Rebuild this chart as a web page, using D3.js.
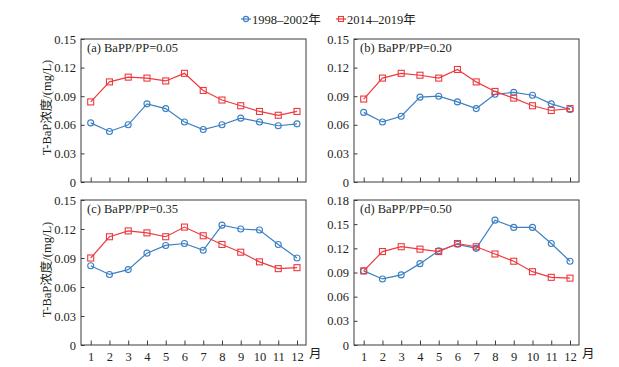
<!DOCTYPE html>
<html><head><meta charset="utf-8">
<script src="https://cdn.jsdelivr.net/npm/d3@7"></script>
<style>
html,body{margin:0;padding:0;background:#fff;}
svg text{font-family:"Liberation Serif","Noto Sans CJK SC",serif;fill:#231f20;}
</style></head>
<body><svg id="chart" width="619" height="367"></svg>
<script>
const months = [1,2,3,4,5,6,7,8,9,10,11,12];
const seriesNames = ["1998–2002年","2014–2019年"];
const panelLabels = ["(a) BaPP/PP=0.05","(b) BaPP/PP=0.20","(c) BaPP/PP=0.35","(d) BaPP/PP=0.50"];
const yTicksABC = [0,0.03,0.06,0.09,0.12,0.15];
const yTicksD = [0,0.03,0.06,0.09,0.12,0.15,0.18];
const yLabel = "T-BaP浓度/(mg/L)";
const xUnit = "月";

const blueA = [0.062,0.053,0.060,0.082,0.077,0.063,0.055,0.060,0.067,0.063,0.059,0.061];
const redA  = [0.084,0.105,0.110,0.109,0.106,0.114,0.096,0.086,0.080,0.074,0.070,0.074];
const blueB = [0.073,0.063,0.069,0.089,0.090,0.084,0.077,0.092,0.094,0.091,0.082,0.076];
const redB  = [0.087,0.109,0.114,0.112,0.109,0.118,0.105,0.095,0.088,0.080,0.075,0.077];
const blueC = [0.082,0.073,0.078,0.095,0.103,0.105,0.098,0.124,0.120,0.119,0.104,0.090];
const redC  = [0.090,0.112,0.118,0.116,0.112,0.122,0.113,0.104,0.096,0.086,0.079,0.080];
const blueD = [0.092,0.082,0.087,0.101,0.117,0.125,0.120,0.155,0.146,0.146,0.126,0.104];
const redD  = [0.092,0.116,0.122,0.119,0.116,0.126,0.122,0.113,0.104,0.091,0.084,0.083];

const BLUE = "#3b7fc3", RED = "#ee3a3f", FRAME = "#3a3a3a";

const panels = [
  {x0:81, x1:306, y0:39, y1:182, label:panelLabels[0], blue:blueA, red:redA, ticks:yTicksABC, max:0.15, xlab:false, ylab:true},
  {x0:354, x1:579, y0:39, y1:182, label:panelLabels[1], blue:blueB, red:redB, ticks:yTicksABC, max:0.15, xlab:false, ylab:false},
  {x0:81, x1:306, y0:200, y1:345, label:panelLabels[2], blue:blueC, red:redC, ticks:yTicksABC, max:0.15, xlab:true, ylab:true},
  {x0:354, x1:579, y0:200, y1:345, label:panelLabels[3], blue:blueD, red:redD, ticks:yTicksD, max:0.18, xlab:true, ylab:false}
];

const svg = d3.select("#chart");
const fmt = v => v === 0 ? "0" : d3.format(".2f")(v);

panels.forEach(p => {
  const x = d3.scaleLinear().domain([1,12]).range([p.x0+9.7, p.x1-9]);
  const y = d3.scaleLinear().domain([0,p.max]).range([p.y1, p.y0]);
  const g = svg.append("g");

  const ya = d3.axisLeft(y).tickValues(p.ticks).tickSize(-3.5).tickPadding(5).tickFormat(fmt);
  const yg = g.append("g").attr("transform", `translate(${p.x0},0)`).call(ya);
  yg.select(".domain").remove();
  yg.selectAll("line").attr("stroke", FRAME).attr("stroke-width", 1);
  yg.selectAll("text").attr("font-size", 12.5).style("font-family", '"Liberation Serif",serif').attr("fill","#231f20");

  const xa = d3.axisBottom(x).tickValues(months).tickSize(-4.5).tickPadding(7).tickFormat(p.xlab ? d3.format("d") : "");
  const xg = g.append("g").attr("transform", `translate(0,${p.y1})`).call(xa);
  xg.select(".domain").remove();
  xg.selectAll("line").attr("stroke", FRAME).attr("stroke-width", 1);
  xg.selectAll("text").attr("font-size", 12.5).style("font-family", '"Liberation Serif",serif').attr("fill","#231f20");

  g.append("rect").attr("x", p.x0).attr("y", p.y0).attr("width", p.x1-p.x0).attr("height", p.y1-p.y0)
    .attr("fill","none").attr("stroke", FRAME).attr("stroke-width", 1);

  g.append("text").attr("x", p.x0+6).attr("y", p.y0+12.5).attr("font-size", 12.5).text(p.label);

  if (p.xlab) {
    g.append("text").attr("x", p.x1+3).attr("y", p.y1+13).attr("font-size", 12.5).text(xUnit);
  }
  if (p.ylab) {
    g.append("text").attr("transform", `translate(${p.x0-30},${(p.y0+p.y1)/2-3}) rotate(-90)`)
      .attr("text-anchor","middle").attr("font-size", 12.5).text(yLabel);
  }

  const line = d3.line().x((d,i)=>x(months[i])).y(d=>y(d));
  g.append("path").datum(p.blue).attr("d", line).attr("fill","none").attr("stroke", BLUE).attr("stroke-width", 1.2);
  g.selectAll(".cb").data(p.blue).join("circle").attr("cx",(d,i)=>x(months[i])).attr("cy",d=>y(d)).attr("r",3)
    .attr("fill","none").attr("stroke", BLUE).attr("stroke-width", 1.1);
  g.append("path").datum(p.red).attr("d", line).attr("fill","none").attr("stroke", RED).attr("stroke-width", 1.2);
  g.selectAll(".sr").data(p.red).join("rect").attr("x",(d,i)=>x(months[i])-3).attr("y",d=>y(d)-3)
    .attr("width",6).attr("height",6).attr("fill","none").attr("stroke", RED).attr("stroke-width", 1.1);
});

const legend = svg.append("g");
const legItems = [{name:seriesNames[0], color:BLUE, shape:"circle", x:241},{name:seriesNames[1], color:RED, shape:"rect", x:336}];
legItems.forEach(it => {
  const ly = 19;
  legend.append("line").attr("x1", it.x).attr("x2", it.x+10).attr("y1", ly).attr("y2", ly).attr("stroke", it.color).attr("stroke-width",1.2);
  if (it.shape === "circle") {
    legend.append("circle").attr("cx", it.x+5).attr("cy", ly).attr("r", 2.6).attr("fill","none").attr("stroke", it.color).attr("stroke-width",1.1);
  } else {
    legend.append("rect").attr("x", it.x+2.5).attr("y", ly-2.5).attr("width",5).attr("height",5).attr("fill","none").attr("stroke", it.color).attr("stroke-width",1.1);
  }
  legend.append("text").attr("x", it.x+11).attr("y", ly+4.5).attr("font-size", 12.5).text(it.name);
});
</script></body></html>
